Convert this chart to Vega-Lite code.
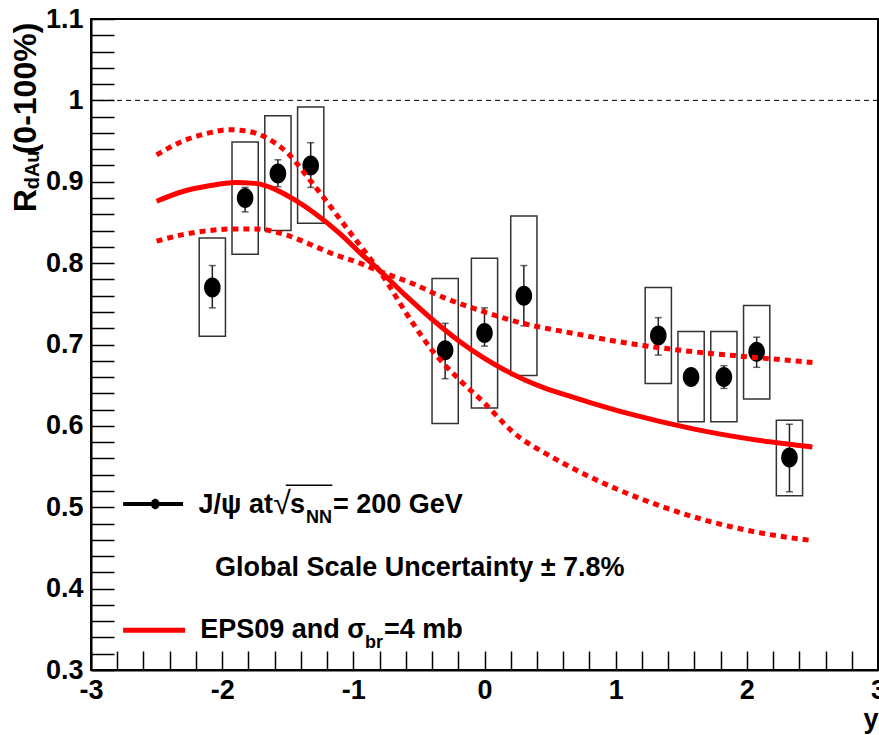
{
  "$schema": "https://vega.github.io/schema/vega-lite/v6.json",
  "width": 787,
  "height": 651,
  "autosize": {"type": "none"},
  "padding": {"left": 91, "top": 19, "right": 1, "bottom": 65},
  "background": "white",
  "config": {
    "view": {"stroke": "black", "strokeWidth": 2},
    "font": "Liberation Sans",
    "axis": {
      "domainColor": "black",
      "domainWidth": 2,
      "tickColor": "black",
      "tickWidth": 1.5,
      "labelColor": "black",
      "labelFont": "Liberation Sans",
      "labelFontWeight": "bold",
      "labelFontSize": 27,
      "labelOverlap": false,
      "labelFlush": false,
      "labelBound": false,
      "grid": false
    }
  },
  "datasets": {
    "pts": [
      {"x": -2.075, "xl": -2.175, "xr": -1.975, "y": 0.770, "elo": 0.745, "ehi": 0.797, "blo": 0.710, "bhi": 0.831},
      {"x": -1.825, "xl": -1.925, "xr": -1.725, "y": 0.880, "elo": 0.863, "ehi": 0.893, "blo": 0.811, "bhi": 0.949},
      {"x": -1.575, "xl": -1.675, "xr": -1.475, "y": 0.910, "elo": 0.894, "ehi": 0.927, "blo": 0.840, "bhi": 0.981},
      {"x": -1.325, "xl": -1.425, "xr": -1.225, "y": 0.920, "elo": 0.893, "ehi": 0.948, "blo": 0.849, "bhi": 0.992},
      {"x": -0.30, "xl": -0.40, "xr": -0.20, "y": 0.693, "elo": 0.658, "ehi": 0.726, "blo": 0.603, "bhi": 0.781},
      {"x": 0.0, "xl": -0.10, "xr": 0.10, "y": 0.714, "elo": 0.698, "ehi": 0.745, "blo": 0.622, "bhi": 0.806},
      {"x": 0.30, "xl": 0.20, "xr": 0.40, "y": 0.760, "elo": 0.723, "ehi": 0.797, "blo": 0.662, "bhi": 0.858},
      {"x": 1.325, "xl": 1.225, "xr": 1.425, "y": 0.711, "elo": 0.687, "ehi": 0.733, "blo": 0.652, "bhi": 0.770},
      {"x": 1.575, "xl": 1.475, "xr": 1.675, "y": 0.660, "elo": 0.655, "ehi": 0.665, "blo": 0.605, "bhi": 0.716},
      {"x": 1.825, "xl": 1.725, "xr": 1.925, "y": 0.660, "elo": 0.646, "ehi": 0.674, "blo": 0.605, "bhi": 0.716},
      {"x": 2.075, "xl": 1.975, "xr": 2.175, "y": 0.691, "elo": 0.672, "ehi": 0.709, "blo": 0.633, "bhi": 0.748},
      {"x": 2.325, "xl": 2.225, "xr": 2.425, "y": 0.561, "elo": 0.519, "ehi": 0.602, "blo": 0.514, "bhi": 0.607}
    ],
    "central": [
      {"x": -2.5, "y": 0.876}, {"x": -2.3, "y": 0.888}, {"x": -2.1, "y": 0.895}, {"x": -1.9, "y": 0.899},
      {"x": -1.75, "y": 0.898}, {"x": -1.6, "y": 0.891}, {"x": -1.45, "y": 0.878}, {"x": -1.3, "y": 0.862},
      {"x": -1.1, "y": 0.836}, {"x": -0.95, "y": 0.813}, {"x": -0.8, "y": 0.791}, {"x": -0.6, "y": 0.760},
      {"x": -0.4, "y": 0.731}, {"x": -0.2, "y": 0.705}, {"x": 0.0, "y": 0.683}, {"x": 0.15, "y": 0.669},
      {"x": 0.3, "y": 0.657}, {"x": 0.45, "y": 0.647}, {"x": 0.6, "y": 0.639}, {"x": 0.8, "y": 0.629},
      {"x": 1.1, "y": 0.615}, {"x": 1.6, "y": 0.596}, {"x": 2.1, "y": 0.582}, {"x": 2.5, "y": 0.574}
    ],
    "band": [
      {"edge": "a", "x": -2.5, "y": 0.933}, {"edge": "a", "x": -2.3, "y": 0.950}, {"edge": "a", "x": -2.1, "y": 0.960},
      {"edge": "a", "x": -1.95, "y": 0.964}, {"edge": "a", "x": -1.8, "y": 0.962}, {"edge": "a", "x": -1.65, "y": 0.953},
      {"edge": "a", "x": -1.5, "y": 0.935}, {"edge": "a", "x": -1.35, "y": 0.906}, {"edge": "a", "x": -1.2, "y": 0.875},
      {"edge": "a", "x": -1.05, "y": 0.843}, {"edge": "a", "x": -0.95, "y": 0.822}, {"edge": "a", "x": -0.8, "y": 0.790},
      {"edge": "a", "x": -0.55, "y": 0.727}, {"edge": "a", "x": -0.4, "y": 0.693}, {"edge": "a", "x": -0.2, "y": 0.658},
      {"edge": "a", "x": 0.0, "y": 0.628}, {"edge": "a", "x": 0.22, "y": 0.592}, {"edge": "a", "x": 0.5, "y": 0.563},
      {"edge": "a", "x": 0.6, "y": 0.554}, {"edge": "a", "x": 0.97, "y": 0.525}, {"edge": "a", "x": 1.35, "y": 0.501},
      {"edge": "a", "x": 1.73, "y": 0.482}, {"edge": "a", "x": 2.12, "y": 0.468}, {"edge": "a", "x": 2.5, "y": 0.459},
      {"edge": "b", "x": -2.5, "y": 0.827}, {"edge": "b", "x": -2.3, "y": 0.835}, {"edge": "b", "x": -2.1, "y": 0.840},
      {"edge": "b", "x": -1.9, "y": 0.842}, {"edge": "b", "x": -1.75, "y": 0.842}, {"edge": "b", "x": -1.5, "y": 0.834},
      {"edge": "b", "x": -1.3, "y": 0.821}, {"edge": "b", "x": -1.15, "y": 0.811}, {"edge": "b", "x": -0.95, "y": 0.800},
      {"edge": "b", "x": -0.8, "y": 0.790}, {"edge": "b", "x": -0.55, "y": 0.775}, {"edge": "b", "x": -0.3, "y": 0.757},
      {"edge": "b", "x": 0.0, "y": 0.740}, {"edge": "b", "x": 0.22, "y": 0.729}, {"edge": "b", "x": 0.7, "y": 0.713},
      {"edge": "b", "x": 1.0, "y": 0.704}, {"edge": "b", "x": 1.6, "y": 0.691}, {"edge": "b", "x": 2.0, "y": 0.685},
      {"edge": "b", "x": 2.5, "y": 0.678}
    ],
    "unity": [{"y": 1.0}],
    "legBlack": [{"x": -2.755, "x2": -2.298, "y": 0.504}],
    "legRed": [{"x": -2.755, "x2": -2.283, "y": 0.349}],
    "legDot": [{"x": -2.51, "y": 0.504}],
    "overline": [{"x": -1.515, "x2": -1.16, "y": 0.527}],
    "txtBig": [
      {"x": -2.18, "y": 0.5025, "t": "J/ψ at"},
      {"x": -1.482, "y": 0.5025, "t": "s"},
      {"x": -1.155, "y": 0.5025, "t": "= 200 GeV"},
      {"x": -2.054, "y": 0.425, "t": "Global Scale Uncertainty ± 7.8%"},
      {"x": -2.168, "y": 0.349, "t": "EPS09 and σ"},
      {"x": -0.766, "y": 0.349, "t": "=4 mb"}
    ],
    "txtSub": [
      {"x": -1.36, "y": 0.4864, "t": "NN"},
      {"x": -0.911, "y": 0.333, "t": "br"}
    ],
    "txtRoot": [
      {"x": -1.61, "y": 0.5045, "t": "√"}
    ],
    "ytitleBig": [
      {"x": -3.418, "y": 0.8624, "t": "R"},
      {"x": -3.418, "y": 0.9337, "t": "(0-100%)"}
    ],
    "ytitleSub": [
      {"x": -3.395, "y": 0.8907, "t": "dAu"}
    ]
  },
  "layer": [
    {
      "data": {"name": "pts"},
      "mark": {"type": "rect", "filled": false, "stroke": "#333333", "strokeWidth": 1.5},
      "encoding": {
        "x": {
          "field": "xl", "type": "quantitative", "title": "y",
          "scale": {"domain": [-3, 3], "nice": false, "zero": false},
          "axis": {
            "values": [-3, -2.8, -2.6, -2.4, -2.2, -2, -1.8, -1.6, -1.4, -1.2, -1, -0.8, -0.6, -0.4, -0.2, 0, 0.2, 0.4, 0.6, 0.8, 1, 1.2, 1.4, 1.6, 1.8, 2, 2.2, 2.4, 2.6, 2.8, 3],
            "tickCount": 200,
            "labelExpr": "abs(datum.value - round(datum.value)) < 0.001 ? '' + round(datum.value) : ''",
            "labelOverlap": false,
            "labelFlush": false,
            "tickSize": -19,
            "encode": {"ticks": {"update": {"y2": {"signal": "abs(datum.value - round(datum.value)) < 0.001 ? -19 : -9"}}}},
            "labelPadding": 26,
            "labelBaseline": "top",
            "titleFont": "Liberation Sans",
            "titleFontWeight": "bold",
            "titleFontSize": 27,
            "titleColor": "black",
            "titleAnchor": "end",
            "titleAlign": "right",
            "titleBaseline": "top",
            "titleY": 36
          }
        },
        "x2": {"field": "xr"},
        "y": {
          "field": "blo", "type": "quantitative", "title": null,
          "scale": {"domain": [0.3, 1.1], "nice": false, "zero": false},
          "axis": {
            "values": [0.3, 0.32, 0.34, 0.36, 0.38, 0.4, 0.42, 0.44, 0.46, 0.48, 0.5, 0.52, 0.54, 0.56, 0.58, 0.6, 0.62, 0.64, 0.66, 0.68, 0.7, 0.72, 0.74, 0.76, 0.78, 0.8, 0.82, 0.84, 0.86, 0.88, 0.9, 0.92, 0.94, 0.96, 0.98, 1.0, 1.02, 1.04, 1.06, 1.08, 1.1],
            "tickCount": 200,
            "labelExpr": "abs(datum.value*10 - round(datum.value*10)) < 0.001 ? format(datum.value, '~g') : ''",
            "labelOverlap": false,
            "tickSize": -23,
            "encode": {"ticks": {"update": {"x2": {"signal": "abs(datum.value*10 - round(datum.value*10)) < 0.001 ? 23 : 11"}}}},
            "labelPadding": 31,
            "labelAlign": "right",
            "labelBaseline": "middle"
          }
        },
        "y2": {"field": "bhi"}
      }
    },
    {
      "data": {"name": "unity"},
      "mark": {"type": "rule", "color": "black", "strokeWidth": 1, "strokeDash": [5, 4]},
      "encoding": {"y": {"field": "y", "type": "quantitative", "title": null}}
    },
    {
      "data": {"name": "pts"},
      "mark": {"type": "rule", "color": "#222222", "strokeWidth": 1.5},
      "encoding": {
        "x": {"field": "x", "type": "quantitative", "title": "y"},
        "y": {"field": "elo", "type": "quantitative", "title": null},
        "y2": {"field": "ehi"}
      }
    },
    {
      "data": {"name": "pts"},
      "mark": {"type": "tick", "orient": "horizontal", "color": "#222222", "size": 7, "thickness": 1.5},
      "encoding": {
        "x": {"field": "x", "type": "quantitative", "title": "y"},
        "y": {"field": "elo", "type": "quantitative", "title": null}
      }
    },
    {
      "data": {"name": "pts"},
      "mark": {"type": "tick", "orient": "horizontal", "color": "#222222", "size": 7, "thickness": 1.5},
      "encoding": {
        "x": {"field": "x", "type": "quantitative", "title": "y"},
        "y": {"field": "ehi", "type": "quantitative", "title": null}
      }
    },
    {
      "data": {"name": "pts"},
      "mark": {"type": "point", "filled": true, "color": "black", "opacity": 1, "size": 400, "shape": "M-0.83,0A0.83,1,0,1,0,0.83,0A0.83,1,0,1,0,-0.83,0Z"},
      "encoding": {
        "x": {"field": "x", "type": "quantitative", "title": "y"},
        "y": {"field": "y", "type": "quantitative", "title": null}
      }
    },
    {
      "data": {"name": "band"},
      "mark": {"type": "line", "color": "#ff0000", "strokeWidth": 5, "strokeDash": [6, 5], "strokeCap": "butt", "interpolate": "monotone"},
      "encoding": {
        "x": {"field": "x", "type": "quantitative", "title": "y"},
        "y": {"field": "y", "type": "quantitative", "title": null},
        "detail": {"field": "edge", "type": "nominal"}
      }
    },
    {
      "data": {"name": "central"},
      "mark": {"type": "line", "color": "#ff0000", "strokeWidth": 5, "interpolate": "monotone"},
      "encoding": {
        "x": {"field": "x", "type": "quantitative", "title": "y"},
        "y": {"field": "y", "type": "quantitative", "title": null}
      }
    },
    {
      "data": {"name": "legBlack"},
      "mark": {"type": "rule", "color": "black", "strokeWidth": 4},
      "encoding": {
        "x": {"field": "x", "type": "quantitative", "title": "y"},
        "x2": {"field": "x2"},
        "y": {"field": "y", "type": "quantitative", "title": null}
      }
    },
    {
      "data": {"name": "legDot"},
      "mark": {"type": "point", "filled": true, "color": "black", "opacity": 1, "size": 110, "shape": "M-0.83,0A0.83,1,0,1,0,0.83,0A0.83,1,0,1,0,-0.83,0Z"},
      "encoding": {
        "x": {"field": "x", "type": "quantitative", "title": "y"},
        "y": {"field": "y", "type": "quantitative", "title": null}
      }
    },
    {
      "data": {"name": "legRed"},
      "mark": {"type": "rule", "color": "#ff0000", "strokeWidth": 5},
      "encoding": {
        "x": {"field": "x", "type": "quantitative", "title": "y"},
        "x2": {"field": "x2"},
        "y": {"field": "y", "type": "quantitative", "title": null}
      }
    },
    {
      "data": {"name": "overline"},
      "mark": {"type": "rule", "color": "black", "strokeWidth": 1.5},
      "encoding": {
        "x": {"field": "x", "type": "quantitative", "title": "y"},
        "x2": {"field": "x2"},
        "y": {"field": "y", "type": "quantitative", "title": null}
      }
    },
    {
      "data": {"name": "txtBig"},
      "mark": {"type": "text", "font": "Liberation Sans", "fontWeight": "bold", "fontSize": 27, "align": "left", "baseline": "middle", "color": "black"},
      "encoding": {
        "x": {"field": "x", "type": "quantitative", "title": "y"},
        "y": {"field": "y", "type": "quantitative", "title": null},
        "text": {"field": "t"}
      }
    },
    {
      "data": {"name": "txtSub"},
      "mark": {"type": "text", "font": "Liberation Sans", "fontWeight": "bold", "fontSize": 18, "align": "left", "baseline": "middle", "color": "black"},
      "encoding": {
        "x": {"field": "x", "type": "quantitative", "title": "y"},
        "y": {"field": "y", "type": "quantitative", "title": null},
        "text": {"field": "t"}
      }
    },
    {
      "data": {"name": "txtRoot"},
      "mark": {"type": "text", "font": "Liberation Sans", "fontWeight": "normal", "fontSize": 32, "align": "left", "baseline": "middle", "color": "black"},
      "encoding": {
        "x": {"field": "x", "type": "quantitative", "title": "y"},
        "y": {"field": "y", "type": "quantitative", "title": null},
        "text": {"field": "t"}
      }
    },
    {
      "data": {"name": "ytitleBig"},
      "mark": {"type": "text", "font": "Liberation Sans", "fontWeight": "bold", "fontSize": 32, "align": "left", "baseline": "alphabetic", "angle": 270, "color": "black"},
      "encoding": {
        "x": {"field": "x", "type": "quantitative", "title": "y"},
        "y": {"field": "y", "type": "quantitative", "title": null},
        "text": {"field": "t"}
      }
    },
    {
      "data": {"name": "ytitleSub"},
      "mark": {"type": "text", "font": "Liberation Sans", "fontWeight": "bold", "fontSize": 20, "align": "left", "baseline": "alphabetic", "angle": 270, "color": "black"},
      "encoding": {
        "x": {"field": "x", "type": "quantitative", "title": "y"},
        "y": {"field": "y", "type": "quantitative", "title": null},
        "text": {"field": "t"}
      }
    }
  ]
}
